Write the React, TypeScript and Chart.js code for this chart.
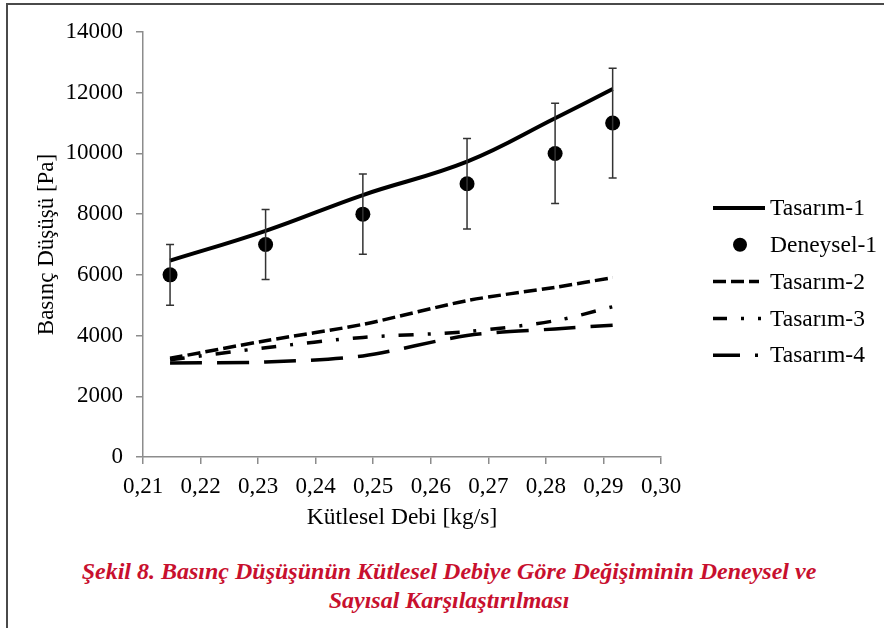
import React, { useEffect, useRef } from "react";
import { Chart, registerables } from "chart.js";

Chart.register(...registerables);

const massFlow = [0.2147, 0.2313, 0.2482, 0.2663, 0.2816, 0.2916];
const tasarim1 = [6470, 7450, 8630, 9730, 11160, 12120];
const deneysel1 = [6000, 7000, 8000, 9000, 10000, 11000];
const deneyselErr = [1000, 1150, 1320, 1490, 1650, 1810];
const tasarim2 = [3250, 3830, 4370, 5150, 5590, 5910];
const tasarim3 = [3200, 3600, 3940, 4130, 4490, 4950];
const tasarim4 = [3100, 3130, 3330, 4000, 4220, 4340];

const seriesLabels = ["Tasarım-1", "Deneysel-1", "Tasarım-2", "Tasarım-3", "Tasarım-4"];
const xTitle = "Kütlesel Debi [kg/s]";
const yTitle = "Basınç Düşüşü [Pa]";
const captionLines = [
  "Şekil 8. Basınç Düşüşünün Kütlesel Debiye Göre Değişiminin Deneysel ve",
  "Sayısal Karşılaştırılması",
];

const FONT = "'Liberation Serif', 'Times New Roman', serif";

const pts = (ys: number[]) => massFlow.map((x, i) => ({ x, y: ys[i] }));

const errorBarPlugin = {
  id: "errorBars",
  afterDatasetsDraw(chart: any) {
    const { ctx, scales } = chart;
    const xs = scales.x;
    const ys = scales.y;
    ctx.save();
    ctx.strokeStyle = "#333";
    ctx.lineWidth = 1.5;
    massFlow.forEach((xv, i) => {
      const px = xs.getPixelForValue(xv);
      const top = ys.getPixelForValue(deneysel1[i] + deneyselErr[i]);
      const bot = ys.getPixelForValue(deneysel1[i] - deneyselErr[i]);
      ctx.beginPath();
      ctx.moveTo(px, top);
      ctx.lineTo(px, bot);
      ctx.moveTo(px - 4, top);
      ctx.lineTo(px + 4, top);
      ctx.moveTo(px - 4, bot);
      ctx.lineTo(px + 4, bot);
      ctx.stroke();
    });
    ctx.restore();
  },
};

const customLegend = {
  id: "customLegend",
  afterDraw(chart: any) {
    const { ctx, chartArea } = chart;
    const x0 = chartArea.right + 52;
    const y0 = 208;
    const step = 36.8;
    ctx.save();
    chart.data.datasets.forEach((ds: any, i: number) => {
      const y = y0 + i * step;
      if (ds.legendKind === "point") {
        ctx.fillStyle = "#000";
        ctx.beginPath();
        ctx.arc(x0 + 27, y, 7, 0, Math.PI * 2);
        ctx.fill();
      } else {
        ctx.strokeStyle = "#000";
        ctx.lineWidth = ds.borderWidth;
        ctx.setLineDash(ds.legendDash || []);
        ctx.beginPath();
        ctx.moveTo(x0, y);
        ctx.lineTo(x0 + (ds.legendLen || 52), y);
        ctx.stroke();
        ctx.setLineDash([]);
      }
      ctx.fillStyle = "#000";
      ctx.font = `23.5px ${FONT}`;
      ctx.textBaseline = "middle";
      ctx.textAlign = "left";
      ctx.fillText(ds.label, x0 + 57, y + 1);
    });
    ctx.restore();
  },
};

export default function App() {
  const ref = useRef<HTMLCanvasElement>(null);

  useEffect(() => {
    if (!ref.current) return;
    const chart = new Chart(ref.current, {
      type: "scatter",
      data: {
        datasets: [
          {
            label: seriesLabels[0],
            data: pts(tasarim1),
            showLine: true,
            borderColor: "#000",
            borderWidth: 4,
            pointRadius: 0,
            tension: 0.4,
            legendLen: 52,
          } as any,
          {
            label: seriesLabels[1],
            data: pts(deneysel1),
            showLine: false,
            backgroundColor: "#000",
            borderColor: "#000",
            pointRadius: 7.5,
            pointBorderWidth: 0,
            legendKind: "point",
          } as any,
          {
            label: seriesLabels[2],
            data: pts(tasarim2),
            showLine: true,
            borderColor: "#000",
            borderWidth: 3.5,
            borderDash: [13, 5],
            pointRadius: 0,
            tension: 0.3,
            legendDash: [13, 5],
            legendLen: 46,
          } as any,
          {
            label: seriesLabels[3],
            data: pts(tasarim3),
            showLine: true,
            borderColor: "#000",
            borderWidth: 3.5,
            borderDash: [15, 14, 3, 14],
            pointRadius: 0,
            tension: 0.3,
            legendDash: [14, 14, 3, 14, 3, 20],
            legendLen: 48,
          } as any,
          {
            label: seriesLabels[4],
            data: pts(tasarim4),
            showLine: true,
            borderColor: "#000",
            borderWidth: 3.5,
            borderDash: [32, 15],
            pointRadius: 0,
            tension: 0.3,
            legendDash: [27, 15, 3, 20],
            legendLen: 45,
          } as any,
        ],
      },
      options: {
        animation: false,
        responsive: false,
        maintainAspectRatio: false,
        layout: { padding: { top: 32, right: 223, left: 0, bottom: 0 } },
        plugins: {
          legend: { display: false },
          tooltip: { enabled: false },
          title: { display: false },
        },
        scales: {
          x: {
            type: "linear",
            min: 0.21,
            max: 0.3,
            afterFit: (s: any) => {
              s.height = 83;
            },
            ticks: {
              stepSize: 0.01,
              color: "#000",
              padding: 9,
              font: { family: FONT, size: 23 },
              callback: (v: any) => Number(v).toFixed(2).replace(".", ","),
            },
            grid: {
              drawOnChartArea: false,
              drawTicks: true,
              tickLength: 7,
              color: "#8c8c8c",
              lineWidth: 1.5,
            },
            border: { display: true, color: "#8c8c8c", width: 1.5 },
            title: {
              display: true,
              text: xTitle,
              color: "#000",
              font: { family: FONT, size: 23.5 },
              padding: { top: 0, bottom: 8 },
            },
          },
          y: {
            type: "linear",
            min: 0,
            max: 14000,
            afterFit: (s: any) => {
              s.width = 143;
            },
            ticks: {
              stepSize: 2000,
              color: "#000",
              padding: 13,
              font: { family: FONT, size: 23 },
              callback: (v: any) => String(v),
            },
            grid: {
              drawOnChartArea: false,
              drawTicks: true,
              tickLength: 7,
              color: "#8c8c8c",
              lineWidth: 1.5,
            },
            border: { display: true, color: "#8c8c8c", width: 1.5 },
            title: {
              display: true,
              text: yTitle,
              color: "#000",
              font: { family: FONT, size: 23 },
              padding: { top: 33, bottom: 0 },
            },
          },
        },
      },
      plugins: [errorBarPlugin, customLegend],
    });
    return () => chart.destroy();
  }, []);

  return (
    <div
      style={{
        position: "fixed",
        left: 0,
        top: 0,
        width: 884,
        height: 628,
        background: "#fff",
        overflow: "hidden",
      }}
    >
      <div
        style={{
          position: "absolute",
          left: 6,
          top: 3,
          right: 0,
          bottom: 0,
          borderTop: "2px solid #4a4a4a",
          borderLeft: "2px solid #4a4a4a",
        }}
      />
      <canvas
        ref={ref}
        width={884}
        height={540}
        style={{ position: "absolute", left: 0, top: 0, width: 884, height: 540 }}
      />
      <div
        style={{
          position: "absolute",
          left: 0,
          top: 557,
          width: 898,
          textAlign: "center",
          fontFamily: FONT,
          fontStyle: "italic",
          fontWeight: "bold",
          fontSize: 24,
          lineHeight: "29px",
          color: "#c8102e",
        }}
      >
        {captionLines.map((l, i) => (
          <div key={i}>{l}</div>
        ))}
      </div>
    </div>
  );
}
